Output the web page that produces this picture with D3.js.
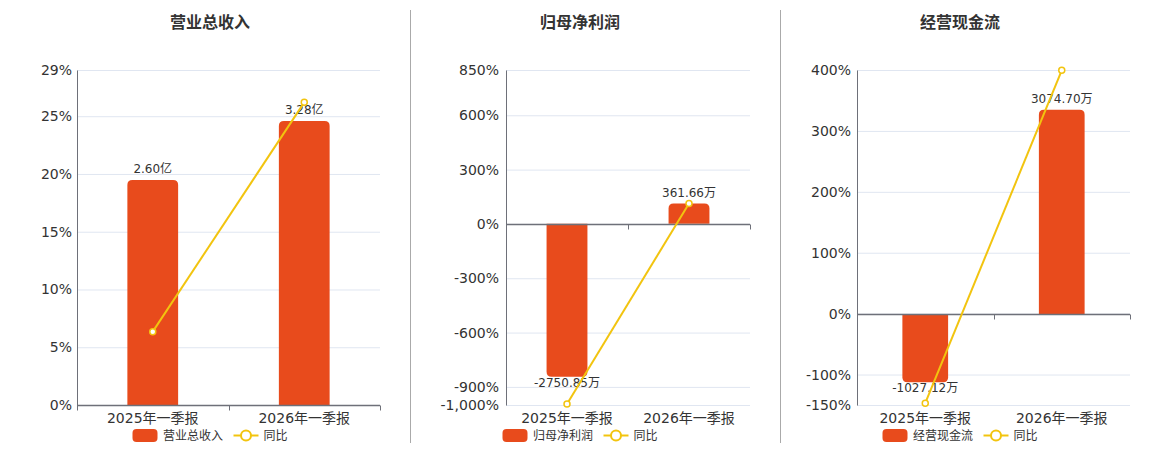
<!DOCTYPE html>
<html>
<head>
<meta charset="utf-8">
<script src="https://cdn.jsdelivr.net/npm/d3@7"></script>
<style>
  html, body { margin: 0; padding: 0; background: #fff; }
  svg { display: block; font-family: "DejaVu Sans", "Noto Sans CJK SC", sans-serif; }
</style>
</head>
<body>
<svg id="chart" width="1160" height="450"></svg>
<script>
// ---- data ----
const categories = ["2025年一季报", "2026年一季报"];

const revenueValues = [2.60, 3.28];          // 亿
const revenueYoy = [6.35, 26.2];             // %
const revenueTicks = [0, 5, 10, 15, 20, 25, 29];

const profitValues = [-2750.85, 361.66];     // 万
const profitYoy = [-995, 113.1];             // %
const profitTicks = [-1000, -900, -600, -300, 0, 300, 600, 850];

const cashValues = [-1027.12, 3074.70];      // 万
const cashYoy = [-147, 399.4];               // %
const cashTicks = [-150, -100, 0, 100, 200, 300, 400];

const titles = ["营业总收入", "归母净利润", "经营现金流"];
const units = ["亿", "万", "万"];
const yoyName = "同比";

// ---- layout / style ----
const BAR = "#E84B1C", LINE = "#F2C40F", AXIS = "#6E7079", GRID = "#E0E6F1", TXT = "#333";
const plotTop = 70, plotBottom = 405;

const panels = [
  { title: titles[0], unit: units[0], values: revenueValues, yoy: revenueYoy, ticks: revenueTicks,
    yDomain: [0, 29], barDomain: [0, 3.87], x0: 77, x1: 380, cx: 210, pad: 5 },
  { title: titles[1], unit: units[1], values: profitValues, yoy: profitYoy, ticks: profitTicks,
    yDomain: [-1000, 850], barDomain: [-3260, 2763], x0: 506, x1: 750, cx: 580, pad: 7 },
  { title: titles[2], unit: units[2], values: cashValues, yoy: cashYoy, ticks: cashTicks,
    yDomain: [-150, 400], barDomain: [-1370, 3672], x0: 857, x1: 1130, cx: 960, pad: 6 }
];

const loc = d3.formatLocale({ decimal: ".", thousands: ",", grouping: [3], currency: ["", ""], minus: "-" });
const fmtTick = loc.format(",");

const svg = d3.select("#chart");

// separators
[410, 780].forEach(x => {
  svg.append("line").attr("x1", x + 0.5).attr("x2", x + 0.5).attr("y1", 10).attr("y2", 443)
    .attr("stroke", "#aaa").attr("stroke-width", 1);
});

function barPath(x, w, y0, y1, r) {
  const h = Math.abs(y1 - y0);
  r = Math.min(r, h, w / 2);
  if (y1 <= y0) {
    return `M${x},${y0}V${y1 + r}Q${x},${y1} ${x + r},${y1}H${x + w - r}Q${x + w},${y1} ${x + w},${y1 + r}V${y0}Z`;
  } else {
    return `M${x},${y0}V${y1 - r}Q${x},${y1} ${x + r},${y1}H${x + w - r}Q${x + w},${y1} ${x + w},${y1 - r}V${y0}Z`;
  }
}

panels.forEach(p => {
  const g = svg.append("g");
  const x = d3.scaleBand().domain(categories).range([p.x0, p.x1]).paddingInner(0).paddingOuter(0);
  const y = d3.scaleLinear().domain(p.yDomain).range([plotBottom, plotTop]);
  const yb = d3.scaleLinear().domain(p.barDomain).range([plotBottom, plotTop]);
  const w = p.x1 - p.x0;
  const bw = x.bandwidth() * 0.335;

  // title
  g.append("text").attr("x", p.cx).attr("y", 22).attr("text-anchor", "middle")
    .attr("dominant-baseline", "central").attr("font-size", 16).attr("font-weight", "bold")
    .attr("fill", TXT).text(p.title);

  // grid
  const grid = g.append("g").attr("transform", `translate(${p.x0},0)`)
    .call(d3.axisLeft(y).tickValues(p.ticks).tickSize(-w).tickFormat(""));
  grid.select(".domain").remove();
  grid.selectAll(".tick line").attr("stroke", GRID).attr("stroke-width", 1);

  // bars
  const data = categories.map((c, i) => ({ c, v: p.values[i], r: p.yoy[i] }));
  g.selectAll("path.bar").data(data).join("path").attr("class", "bar")
    .attr("d", d => barPath(x(d.c) + (x.bandwidth() - bw) / 2, bw, yb(0), yb(d.v), 5))
    .attr("fill", BAR);

  // bar labels
  g.selectAll("text.blabel").data(data).join("text").attr("class", "blabel")
    .attr("x", d => x(d.c) + x.bandwidth() / 2)
    .attr("y", d => d.v >= 0 ? yb(d.v) - 11 : yb(d.v) + 6)
    .attr("text-anchor", "middle").attr("dominant-baseline", "central")
    .attr("font-size", 12).attr("fill", TXT)
    .text(d => d.v.toFixed(2) + p.unit);

  // y axis
  const ya = g.append("g").attr("transform", `translate(${p.x0},0)`)
    .call(d3.axisLeft(y).tickValues(p.ticks).tickSize(0).tickPadding(p.pad).tickFormat(d => fmtTick(d) + "%"));
  ya.select(".domain").attr("stroke", AXIS).attr("stroke-width", 1);
  ya.selectAll(".tick text").attr("font-size", 14).attr("fill", TXT).attr("font-family", "DejaVu Sans, Noto Sans CJK SC, sans-serif");

  // x axis labels at bottom
  const xa = g.append("g").attr("transform", `translate(0,${plotBottom})`)
    .call(d3.axisBottom(x).tickSize(0).tickPadding(8));
  xa.select(".domain").remove();
  xa.selectAll(".tick text").attr("font-size", 14).attr("fill", TXT).attr("font-family", "DejaVu Sans, Noto Sans CJK SC, sans-serif");

  // zero axis line with boundary ticks
  const y0 = Math.round(y(0)) + 0.5;
  g.append("line").attr("x1", p.x0).attr("x2", p.x1).attr("y1", y0).attr("y2", y0)
    .attr("stroke", AXIS).attr("stroke-width", 1.5);
  const bounds = categories.map(c => x(c)).concat([x.range()[1]]);
  g.selectAll("line.xt").data(bounds).join("line").attr("class", "xt")
    .attr("x1", d => Math.round(d) + 0.5).attr("x2", d => Math.round(d) + 0.5)
    .attr("y1", y0).attr("y2", y0 + 5).attr("stroke", AXIS).attr("stroke-width", 1);

  // yoy line
  const line = d3.line().x(d => x(d.c) + x.bandwidth() / 2).y(d => y(d.r));
  g.append("path").datum(data).attr("d", line).attr("fill", "none")
    .attr("stroke", LINE).attr("stroke-width", 2);
  g.selectAll("circle.pt").data(data).join("circle").attr("class", "pt")
    .attr("cx", d => x(d.c) + x.bandwidth() / 2).attr("cy", d => y(d.r)).attr("r", 3)
    .attr("fill", "#fff").attr("stroke", LINE).attr("stroke-width", 1.5);

  // legend
  const lx = p.cx - 77.5, ly = 435.5;
  g.append("rect").attr("x", lx).attr("y", ly - 6.5).attr("width", 25).attr("height", 13)
    .attr("rx", 4).attr("fill", BAR);
  g.append("text").attr("x", lx + 30.5).attr("y", ly).attr("dominant-baseline", "central")
    .attr("font-size", 12).attr("fill", TXT).text(p.title);
  const sx = lx + 101;
  g.append("line").attr("x1", sx).attr("x2", sx + 25).attr("y1", ly).attr("y2", ly)
    .attr("stroke", LINE).attr("stroke-width", 2);
  g.append("circle").attr("cx", sx + 12.5).attr("cy", ly).attr("r", 5)
    .attr("fill", "#fff").attr("stroke", LINE).attr("stroke-width", 2);
  g.append("text").attr("x", sx + 30).attr("y", ly).attr("dominant-baseline", "central")
    .attr("font-size", 12).attr("fill", TXT).text(yoyName);
});
</script>
</body>
</html>
